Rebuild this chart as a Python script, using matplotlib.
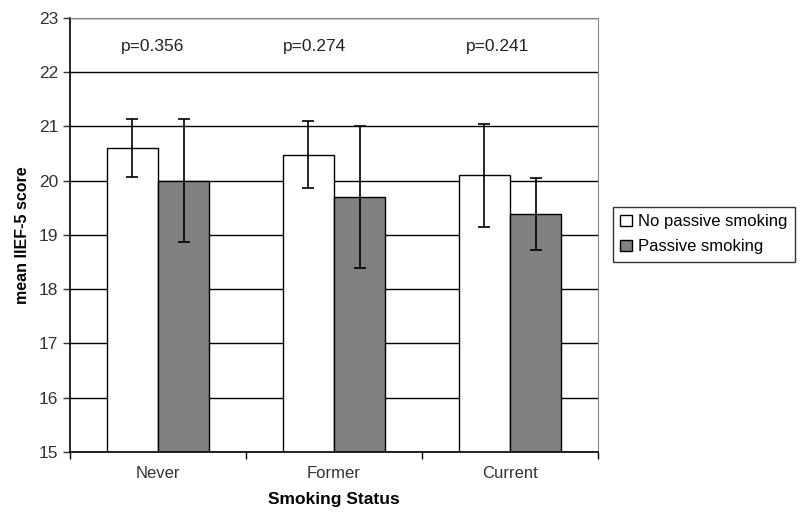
import numpy as np
import matplotlib.pyplot as plt

plt.rcParams['font.family'] = ['Liberation Sans', 'DejaVu Sans']

categories = ['Never', 'Former', 'Current']
no_passive = [20.6, 20.48, 20.1]
no_passive_err = [0.53, 0.62, 0.95]
passive = [20.0, 19.69, 19.39]
passive_err = [1.13, 1.31, 0.66]
p_values = ['p=0.356', 'p=0.274', 'p=0.241']
p_pos = [-0.03, 0.89, 1.93]

fig = plt.figure(figsize=(8, 5.29), dpi=100)
ax = fig.add_axes([0.0875, 0.146, 0.66, 0.82])

x = np.arange(len(categories))
w = 0.29
ax.set_axisbelow(True)
ax.yaxis.grid(True, color='black', linewidth=1)

ekw = dict(ecolor='black', elinewidth=1.2, capsize=4, capthick=1.2)
ax.bar(x - w / 2, no_passive, w, color='white', edgecolor='black',
       linewidth=1, yerr=no_passive_err, error_kw=ekw, label='No passive smoking')
ax.bar(x + w / 2, passive, w, color='#808080', edgecolor='black',
       linewidth=1, yerr=passive_err, error_kw=ekw, label='Passive smoking')

for px, txt in zip(p_pos, p_values):
    ax.text(px, 22.47, txt, ha='center', va='center', fontsize=12.5, color='#222222')

ax.set_ylim(15, 23)
ax.set_xlim(-0.5, 2.5)
ax.set_yticks(range(15, 24))
ax.tick_params(axis='y', direction='out', length=5, width=1, labelsize=12.5, colors='#333333')
ax.set_xticks(x)
ax.set_xticklabels(categories)
ax.tick_params(axis='x', length=0, labelsize=12, pad=10, colors='#333333')
ax.set_xticks([-0.5, 0.5, 1.5, 2.5], minor=True)
ax.tick_params(axis='x', which='minor', direction='out', length=5, width=1)

for s in ['left', 'bottom']:
    ax.spines[s].set_color('black')
    ax.spines[s].set_linewidth(1.2)
for s in ['top', 'right']:
    ax.spines[s].set_color('#888888')

ax.set_xlabel('Smoking Status', fontsize=12.5, fontweight='bold', labelpad=8)
ax.set_ylabel('mean IIEF-5 score', fontsize=11.5, fontweight='bold', labelpad=6)

leg = fig.legend(loc='upper left', bbox_to_anchor=(0.766, 0.609), borderaxespad=0,
                 fontsize=12, frameon=True, fancybox=False, edgecolor='black',
                 handlelength=0.7, handleheight=0.7, handletextpad=0.35,
                 borderpad=0.45, labelspacing=0.6)
leg.get_frame().set_linewidth(1)

plt.savefig('out.png', dpi=100)
